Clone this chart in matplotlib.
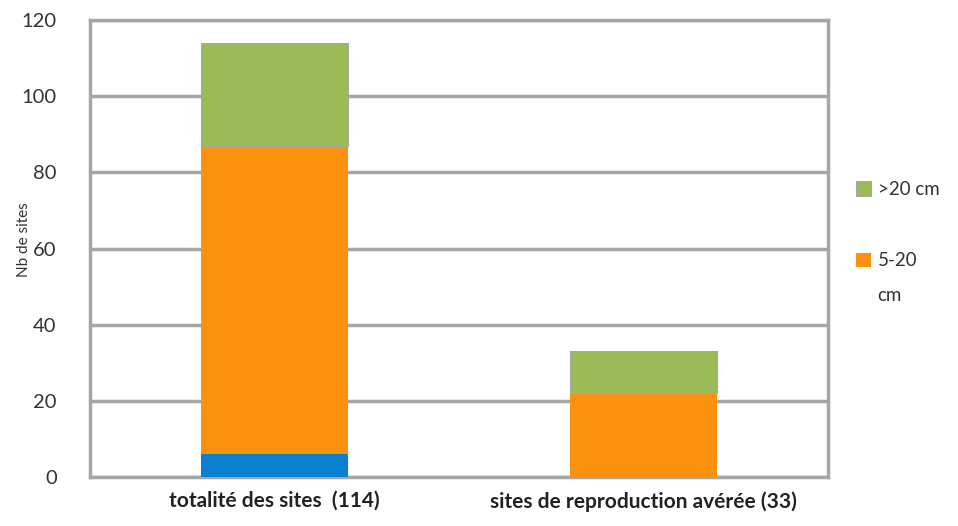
import matplotlib
matplotlib.use("Agg")
import matplotlib.pyplot as plt
import numpy as np

categories = ["totalité des sites  (114)", "sites de reproduction avérée (33)"]
lt5 = [6, 0]
s5_20 = [81, 22]
gt20 = [27, 11]
yticks = [0, 20, 40, 60, 80, 100, 120]

plt.rcParams['font.family'] = ['Lato', 'DejaVu Sans']

fig = plt.figure(figsize=(9.58, 5.26), dpi=100)
ax = fig.add_axes([0.094, 0.093, 0.770, 0.869])

x = np.arange(len(categories))
w = 0.4
c_blue = "#0a80d0"
c_orange = "#fa9210"
c_green = "#9bbb59"
ax.bar(x, lt5, w, color=c_blue, zorder=3)
b2 = ax.bar(x, s5_20, w, bottom=lt5, color=c_orange, label="5-20", zorder=3)
bottom2 = np.array(lt5) + np.array(s5_20)
b3 = ax.bar(x, gt20, w, bottom=bottom2, color=c_green, label=">20 cm", zorder=3,
            edgecolor="#a8a8a8", linewidth=0.8)

ax.set_xlim(-0.5, 1.5)
ax.set_ylim(0, 120)
ax.set_yticks(yticks)
ax.set_yticklabels([str(v) for v in yticks], fontsize=14.5, color="#333333")
ax.set_xticks(x)
ax.set_xticklabels(categories, fontsize=15, fontweight="bold", color="#222222")
ax.tick_params(axis='both', length=0)
ax.tick_params(axis='y', pad=24)
ax.tick_params(axis='x', pad=10)
ax.yaxis.grid(True, color="#a6a6a6", linewidth=2.5, zorder=0)
ax.set_axisbelow(True)
for s in ax.spines.values():
    s.set_color("#a6a6a6")
    s.set_linewidth(2.5)

ax.set_ylabel("Nb de sites", fontsize=11, color="#333333")
ax.yaxis.set_label_coords(-0.080, 0.52)

leg = fig.legend(handles=[b3, b2], loc="upper left", bbox_to_anchor=(0.876, 0.688),
                 frameon=False, fontsize=13.5, handlelength=0.8, handleheight=0.8,
                 handletextpad=0.35, labelspacing=2.9)
for t in leg.get_texts():
    t.set_color("#333333")

fig.canvas.draw()
bb = leg.get_texts()[1].get_window_extent()
inv = fig.transFigure.inverted()
x0, y0 = inv.transform((bb.x0, bb.y0))
fig.text(x0, y0 - 0.033, "cm", fontsize=13.5, color="#333333", ha="left", va="top")

fig.savefig("out.png", dpi=100)
